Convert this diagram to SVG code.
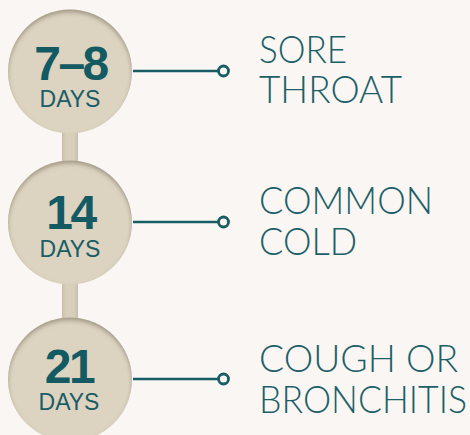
<svg xmlns="http://www.w3.org/2000/svg" width="470" height="435" viewBox="0 0 470 435">
<style>
.num{font-family:"Liberation Sans",Arial,sans-serif;font-weight:bold;font-size:48px;fill:#135a63;text-anchor:middle;letter-spacing:-2.5px}
.days{font-family:"Liberation Sans",Arial,sans-serif;font-size:23px;fill:#1a5d66;text-anchor:middle}
.lbl{font-family:Lato,"Open Sans",sans-serif;font-weight:300;font-size:37px;fill:#1e5f67}
.disc{fill:#dcd3c0}
.conn line{stroke:#1a5c64;stroke-width:2.5}
.conn circle{stroke:#1a5c64;stroke-width:2.8;fill:#f9f6f3}
</style>
<defs>
<filter id="inset" x="-10%" y="-10%" width="120%" height="120%">
<feOffset in="SourceAlpha" dy="3" result="off"/>
<feGaussianBlur in="off" stdDeviation="2" result="blur"/>
<feComposite in="SourceAlpha" in2="blur" operator="out" result="inv"/>
<feFlood flood-color="#7d725d" flood-opacity="0.7" result="col"/>
<feComposite in="col" in2="inv" operator="in" result="shadow"/>
<feMerge><feMergeNode in="SourceGraphic"/><feMergeNode in="shadow"/></feMerge>
</filter>
<linearGradient id="stem" x1="0" x2="1" y1="0" y2="0">
<stop offset="0" stop-color="#c9bea8"/>
<stop offset="0.25" stop-color="#d8cfbb"/>
<stop offset="0.75" stop-color="#d8cfbb"/>
<stop offset="1" stop-color="#c9bea8"/>
</linearGradient>
</defs>
<rect width="470" height="435" fill="#f9f6f3"/>
<rect x="62" y="120" width="16" height="210" fill="url(#stem)"/>
<g class="conn">
<line x1="133" y1="71" x2="218" y2="71"/><circle cx="223.5" cy="71" r="5"/>
<line x1="133" y1="222" x2="218" y2="222"/><circle cx="223.5" cy="222" r="5"/>
<line x1="133" y1="379" x2="218" y2="379"/><circle cx="223.5" cy="379" r="5"/>
</g>
<g id="node1">
<circle class="disc" cx="70" cy="71.5" r="62" filter="url(#inset)"/>
<text class="num" x="70.5" y="80">7–8</text>
<text class="days" x="70" y="107">DAYS</text>
</g>
<g id="node2">
<circle class="disc" cx="70" cy="222.5" r="62" filter="url(#inset)"/>
<text class="num" x="70.5" y="229">14</text>
<text class="days" x="70" y="257">DAYS</text>
</g>
<g id="node3">
<circle class="disc" cx="70" cy="379.5" r="62" filter="url(#inset)"/>
<text class="num" x="69" y="383">21</text>
<text class="days" x="69" y="410">DAYS</text>
</g>
<g id="label1">
<text class="lbl" x="259" y="63" textLength="88" lengthAdjust="spacingAndGlyphs">SORE</text>
<text class="lbl" x="259" y="103" textLength="143" lengthAdjust="spacingAndGlyphs">THROAT</text>
</g>
<g id="label2">
<text class="lbl" x="259" y="214" textLength="174" lengthAdjust="spacingAndGlyphs">COMMON</text>
<text class="lbl" x="259" y="255" textLength="98" lengthAdjust="spacingAndGlyphs">COLD</text>
</g>
<g id="label3">
<text class="lbl" x="259" y="372" textLength="199" lengthAdjust="spacingAndGlyphs">COUGH OR</text>
<text class="lbl" x="259" y="413" textLength="208" lengthAdjust="spacingAndGlyphs">BRONCHITIS</text>
</g>
</svg>
